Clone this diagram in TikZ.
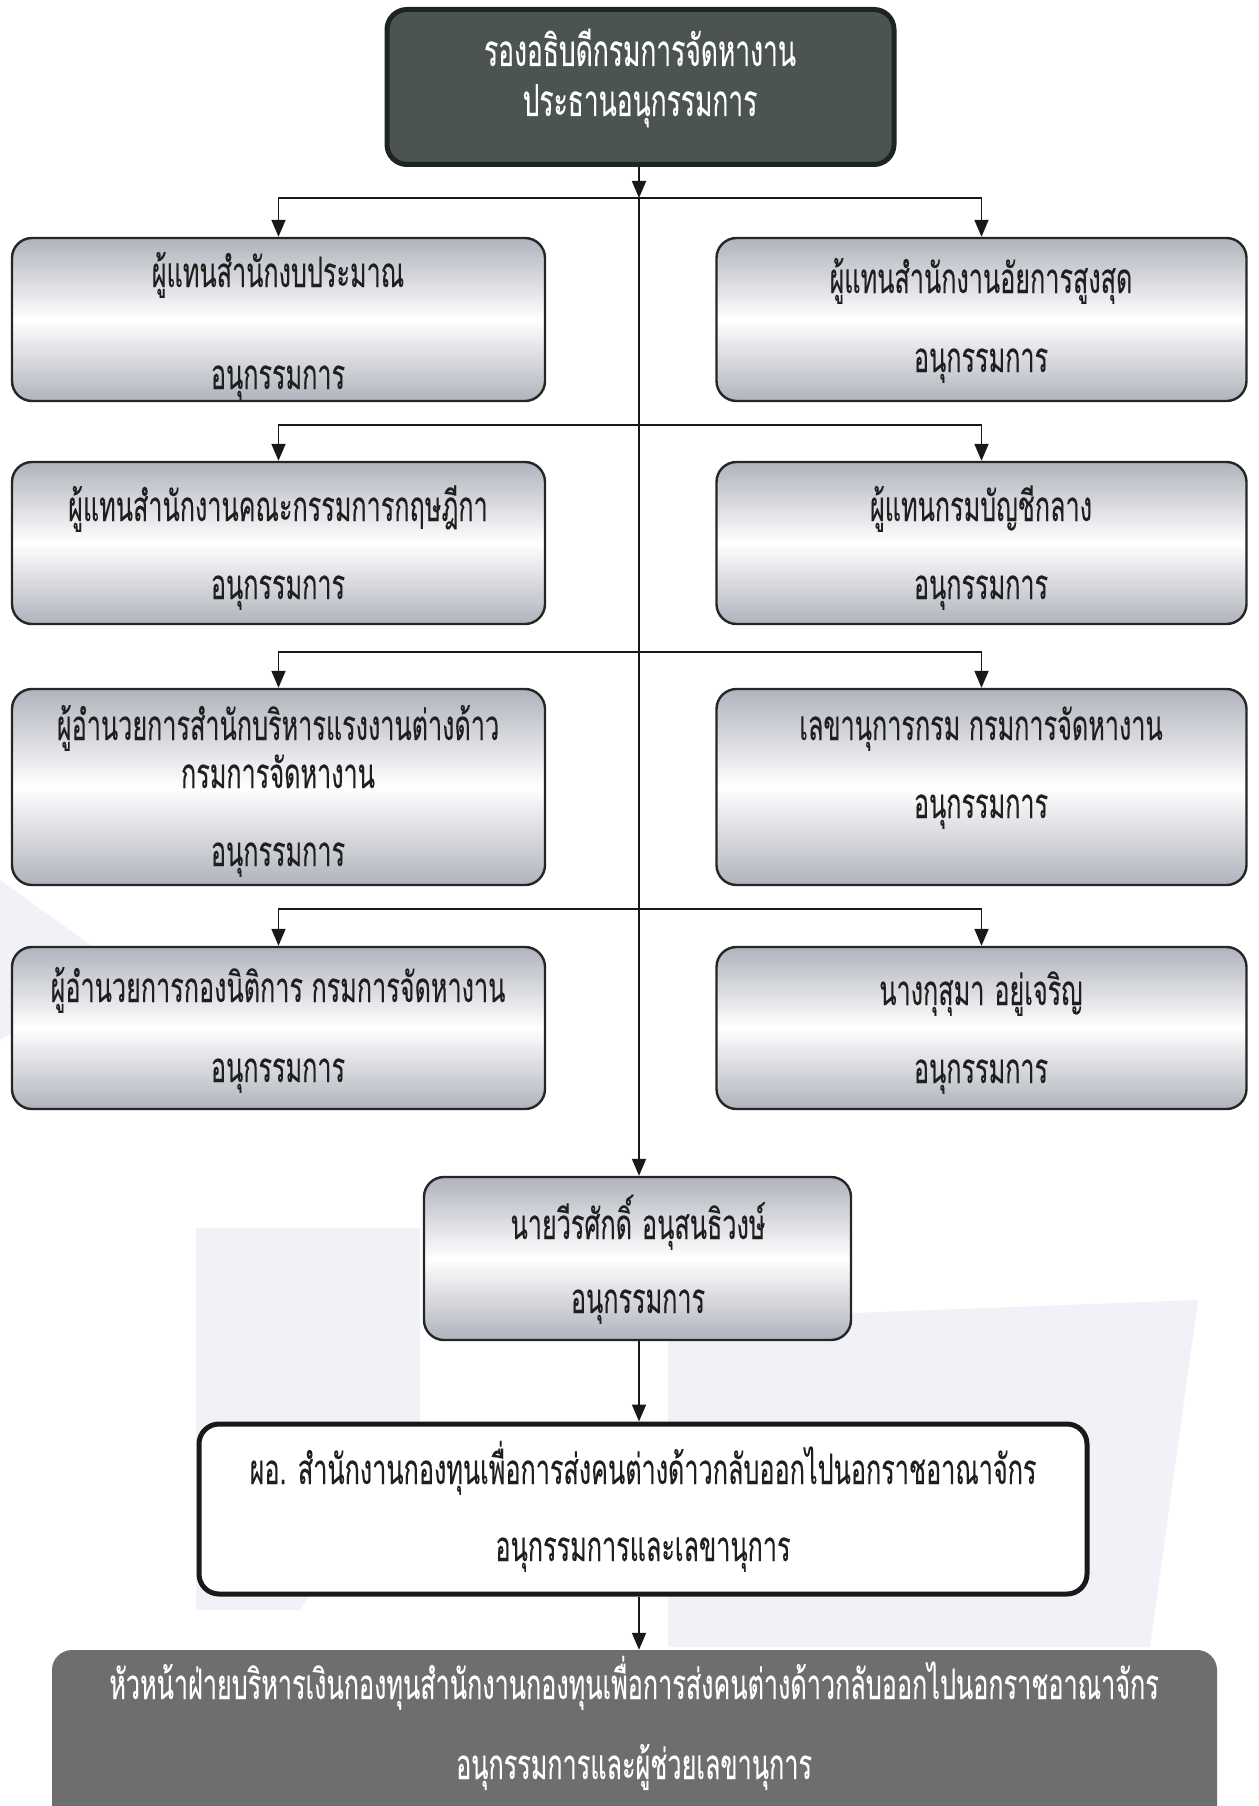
\documentclass[tikz,border=0pt]{standalone}
\usepackage{fontspec}
\usetikzlibrary{arrows.meta,calc}
\newfontfamily\thai[Script=Thai,FakeStretch=0.6,FakeBold=0.12]{Loma}
\definecolor{topfill}{HTML}{4B5451}
\definecolor{topline}{HTML}{1E2422}
\definecolor{botfill}{HTML}{6C6F6E}
\definecolor{gshade}{HTML}{B0B3BD}
\definecolor{wmark}{HTML}{F1F2F7}
\tikzset{
  graybox/.style={draw=black!85, line width=2.4pt, rounded corners=20pt,
    top color=gshade, bottom color=gshade, middle color=white},
  darkbox/.style={draw=topline, line width=5pt, rounded corners=20pt, fill=topfill},
  whitebox/.style={draw=black!90, line width=5pt, rounded corners=20pt, fill=white},
  bottombox/.style={rounded corners=20pt, fill=botfill},
  lbl/.style={inner sep=0pt, anchor=base, font=\thai\fontsize{42}{48}\selectfont, text=black!88},
  wlbl/.style={lbl, text=white},
  toplbl/.style={lbl, text=white, font=\thai\fontsize{44}{50}\selectfont},
  arr/.style={line width=1.8pt, draw=black!90, -{Triangle[length=17pt,width=14pt]}},
}
\begin{document}
\begin{tikzpicture}[x=1pt,y=-1pt]
\useasboundingbox (0,0) rectangle (1258,1806);
\fill[white] (0,0) rectangle (1258,1806);
% faint watermark shapes
\fill[wmark] (196,1228) -- (420,1228) -- (420,1420) -- (300,1610) -- (196,1610) -- cycle;
\fill[wmark] (668,1320) -- (1198,1300) -- (1150,1647) -- (668,1647) -- cycle;
\fill[wmark] (0,880) -- (125,970) -- (0,1040) -- cycle;

% boxes
\node[darkbox, minimum width=507pt, minimum height=155pt] (top) at (640.5,87) {};
\node[graybox, minimum width=533pt, minimum height=163pt] (r1l) at (278.5,319.5) {};
\node[graybox, minimum width=530pt, minimum height=163pt] (r1r) at (981.5,319.5) {};
\node[graybox, minimum width=533pt, minimum height=162pt] (r2l) at (278.5,543) {};
\node[graybox, minimum width=530pt, minimum height=162pt] (r2r) at (981.5,543) {};
\node[graybox, minimum width=533pt, minimum height=196pt] (r3l) at (278.5,787) {};
\node[graybox, minimum width=530pt, minimum height=196pt] (r3r) at (981.5,787) {};
\node[graybox, minimum width=533pt, minimum height=162pt] (r4l) at (278.5,1028) {};
\node[graybox, minimum width=530pt, minimum height=162pt] (r4r) at (981.5,1028) {};
\node[graybox, minimum width=427pt, minimum height=163pt] (mid) at (637.5,1258.5) {};
\node[whitebox, minimum width=888pt, minimum height=170pt] (box2) at (643,1509) {};
\node[bottombox, minimum width=1165pt, minimum height=190pt] (bot) at (634.5,1745) {};

% texts (base anchored)
\node[toplbl] (t0a) at (640,66) {รองอธิบดีกรมการจัดหางาน};
\node[toplbl] (t0b) at (640,116) {ประธานอนุกรรมการ};
\node[lbl] (t1a) at (278,287) {ผู้แทนสำนักงบประมาณ};
\node[lbl] (t1b) at (278,389) {อนุกรรมการ};
\node[lbl] (t1c) at (981,293) {ผู้แทนสำนักงานอัยการสูงสุด};
\node[lbl] (t1d) at (981,372) {อนุกรรมการ};
\node[lbl] (t2a) at (278,521) {ผู้แทนสำนักงานคณะกรรมการกฤษฎีกา};
\node[lbl] (t2b) at (278,599) {อนุกรรมการ};
\node[lbl] (t2c) at (981,521) {ผู้แทนกรมบัญชีกลาง};
\node[lbl] (t2d) at (981,599) {อนุกรรมการ};
\node[lbl] (t3a) at (278,740) {ผู้อำนวยการสำนักบริหารแรงงานต่างด้าว};
\node[lbl] (t3b) at (278,788) {กรมการจัดหางาน};
\node[lbl] (t3c) at (278,866) {อนุกรรมการ};
\node[lbl] (t3d) at (981,740) {เลขานุการกรม กรมการจัดหางาน};
\node[lbl] (t3e) at (981,818) {อนุกรรมการ};
\node[lbl] (t4a) at (278,1002) {ผู้อำนวยการกองนิติการ กรมการจัดหางาน};
\node[lbl] (t4b) at (278,1082) {อนุกรรมการ};
\node[lbl] (t4c) at (981,1005) {นางกุสุมา\hspace{10pt}อยู่เจริญ};
\node[lbl] (t4d) at (981,1083) {อนุกรรมการ};
\node[lbl] (t5a) at (638,1239) {นายวีรศักดิ์\hspace{10pt}อนุสนธิวงษ์};
\node[lbl] (t5b) at (638,1313) {อนุกรรมการ};
\node[lbl] (t6a) at (643,1484) {ผอ. สำนักงานกองทุนเพื่อการส่งคนต่างด้าวกลับออกไปนอกราชอาณาจักร};
\node[lbl] (t6b) at (643,1561) {อนุกรรมการและเลขานุการ};
\node[wlbl] (t7a) at (634,1699) {หัวหน้าฝ่ายบริหารเงินกองทุนสำนักงานกองทุนเพื่อการส่งคนต่างด้าวกลับออกไปนอกราชอาณาจักร};
\node[wlbl] (t7b) at (634,1779) {อนุกรรมการและผู้ช่วยเลขานุการ};

% junctions
\coordinate (j1) at (639,198);
\coordinate (j2) at (639,425);
\coordinate (j3) at (639,652);
\coordinate (j4) at (639,909);

% connectors
\draw[arr] (top.south -| j1) -- (j1);
\draw[arr] (j1) -- (j1 |- mid.north);
\draw[arr] (j1) -| (r1l.north);
\draw[arr] (j1) -| (r1r.north);
\draw[arr] (j2) -| (r2l.north);
\draw[arr] (j2) -| (r2r.north);
\draw[arr] (j3) -| (r3l.north);
\draw[arr] (j3) -| (r3r.north);
\draw[arr] (j4) -| (r4l.north);
\draw[arr] (j4) -| (r4r.north);
\draw[arr] (mid.south -| j1) -- (j1 |- box2.north);
\draw[arr] (box2.south -| j1) -- (j1 |- bot.north);
\end{tikzpicture}
\end{document}
